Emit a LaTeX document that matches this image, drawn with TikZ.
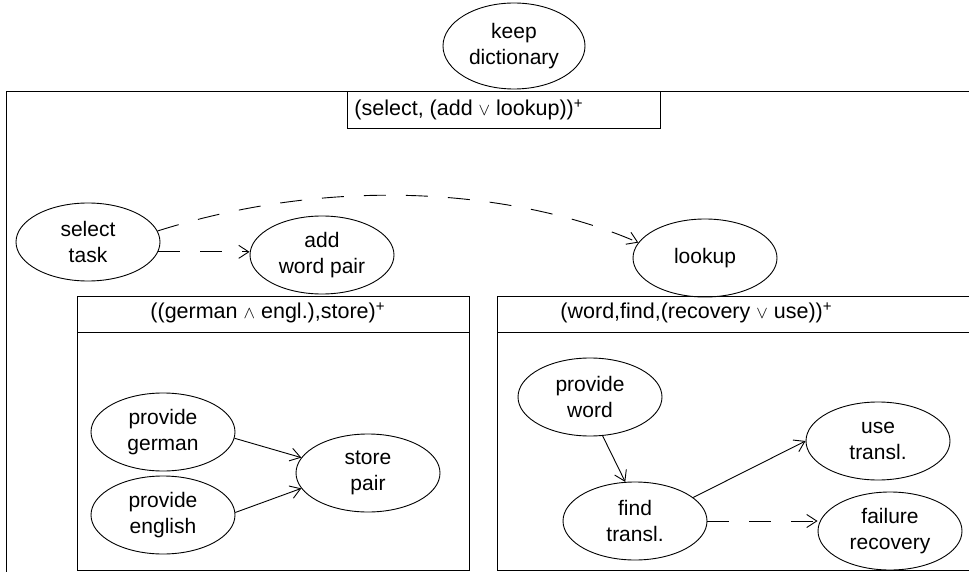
\documentclass[tikz,border=0pt]{standalone}
\usepackage{fontspec}
\setmainfont{Liberation Sans}
\usetikzlibrary{arrows.meta,shapes.geometric}

\newcommand{\opsym}[1]{{\fontsize{18}{18}\selectfont$#1$}}

\begin{document}
\begin{tikzpicture}[x=1pt,y=-1pt,line width=0.9pt,
  task/.style={draw,ellipse,minimum width=144pt,minimum height=78pt,inner sep=0pt,
    align=center,font=\fontsize{21}{26}\selectfont},
  seq/.style={-{Straight Barb[length=10pt,width=13pt]}},
  alt/.style={seq,dash pattern=on 22pt off 20pt},
  head/.style={anchor=west,inner sep=0pt,font=\fontsize{21.5}{24}\selectfont}]

\useasboundingbox (0,0) rectangle (969,572);

% frames
\draw (969,91) -- (6,91) -- (6,572);
\draw (347,91) rectangle (660,128);
\draw (77,296) rectangle (469,570);
\draw (77,332) -- (469,332);
\draw (969,296) -| (497,570) -- (969,570);
\draw (497,332) -- (969,332);

\node[head] (h0) at (354,110) {(select, (add \opsym{\vee} lookup))\textsuperscript{+}};
\node[head] (h1) at (150,313) {((german \opsym{\wedge} engl.),store)\textsuperscript{+}};
\node[head] (h2) at (560,313) {(word,find,(recovery \opsym{\vee} use))\textsuperscript{+}};

% tasks
\node[task,minimum width=142pt,minimum height=86pt] (kd) at (514,46) {keep\\dictionary};
\node[task] (sel)  at (88,242)  {select\\task};
\node[task] (add)  at (322,255) {add\\word pair};
\node[task] (look) at (705,258) {lookup};

\node[task] (pg) at (163,432) {provide\\german};
\node[task] (pe) at (163,515) {provide\\english};
\node[task] (sp) at (368,473) {store\\pair};

\node[task] (pw) at (590,397) {provide\\word};
\node[task] (ft) at (635,521) {find\\transl.};
\node[task] (ut) at (878,441) {use\\transl.};
\node[task] (fr) at (890,531) {failure\\recovery};

% connectors
\draw[alt] (sel.9) .. controls +(190,-60) and +(-110,-48) .. (look.167);
\draw[alt] (sel.-8) -- (sel.-8 -| add.west);

\draw[seq] (pg.-5) -- (sp.167);
\draw[seq] (pe.2) -- (sp.193);

\draw[seq] (pw.-72) -- (ft.104);
\draw[seq] (ft.22) -- (ut.west);
\draw[alt] (ft.east) -- (ft.east -| fr.west);

\end{tikzpicture}
\end{document}
